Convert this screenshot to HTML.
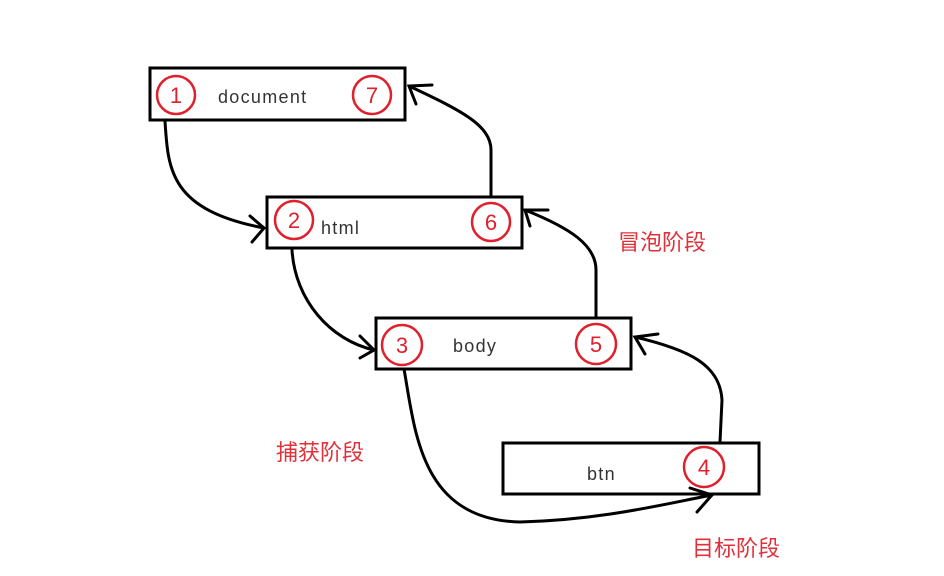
<!DOCTYPE html>
<html><head><meta charset="utf-8"><style>
body{margin:0;background:#fff;}
svg{display:block}
</style></head><body>
<svg width="944" height="576" viewBox="0 0 944 576" xmlns="http://www.w3.org/2000/svg">
<rect width="944" height="576" fill="#fff"/>
<g fill="none" stroke="#000" stroke-width="3">
<rect x="150" y="68" width="255" height="52"/>
<rect x="267" y="197" width="255" height="51"/>
<rect x="376" y="318" width="255" height="51"/>
<rect x="503" y="443" width="256" height="51"/>
</g>
<g fill="none" stroke="#e0202c" stroke-width="2.5">
<circle cx="176" cy="95" r="19"/>
<circle cx="372" cy="95" r="19"/>
<circle cx="294" cy="220" r="19"/>
<circle cx="491" cy="222" r="19"/>
<circle cx="402" cy="345" r="20"/>
<circle cx="596" cy="344" r="20"/>
<circle cx="704" cy="467" r="20"/>
</g>
<g font-family="Liberation Sans, sans-serif" font-size="22" fill="#e0202c" text-anchor="middle">
<text x="176" y="103">1</text><text x="372" y="103">7</text>
<text x="294" y="228">2</text><text x="491" y="230">6</text>
<text x="402" y="353">3</text><text x="596" y="352">5</text>
<text x="704" y="475">4</text>
</g>
<g font-family="Liberation Sans, sans-serif" font-size="18" letter-spacing="1.3" fill="#333">
<text x="218" y="103">document</text>
<text x="321" y="234">html</text>
<text x="453" y="352">body</text>
<text x="587" y="480">btn</text>
</g>
<g fill="none" stroke="#000" stroke-width="3" stroke-linecap="round">
<path d="M165 121 C168 170 170 210 264 228"/>
<path d="M250 216 L264 228 L252 242"/>
<path d="M491 196 L491 150 C491 125 460 110 409 86"/>
<path d="M432 85 L409 86 L416 104"/>
<path d="M292 250 C295 300 330 340 374 350"/>
<path d="M360 336 L374 350 L360 358"/>
<path d="M596 317 L596 270 C596 245 570 228 525 210"/>
<path d="M548 210 L525 210 L530 226"/>
<path d="M404 369 C415 430 420 520 520 522 C600 520 660 505 712 495"/>
<path d="M690 488 L712 495 L697 512"/>
<path d="M720 442 L722 400 C720 365 690 350 635 337"/>
<path d="M658 334 L635 337 L645 354"/>
</g>
<g font-family="Liberation Sans, 'Noto Sans CJK SC', sans-serif" font-size="22" fill="#e0303a">
<text x="618" y="250">冒泡阶段</text>
<text x="276" y="460">捕获阶段</text>
<text x="692" y="556">目标阶段</text>
</g>
</svg>
</body></html>
